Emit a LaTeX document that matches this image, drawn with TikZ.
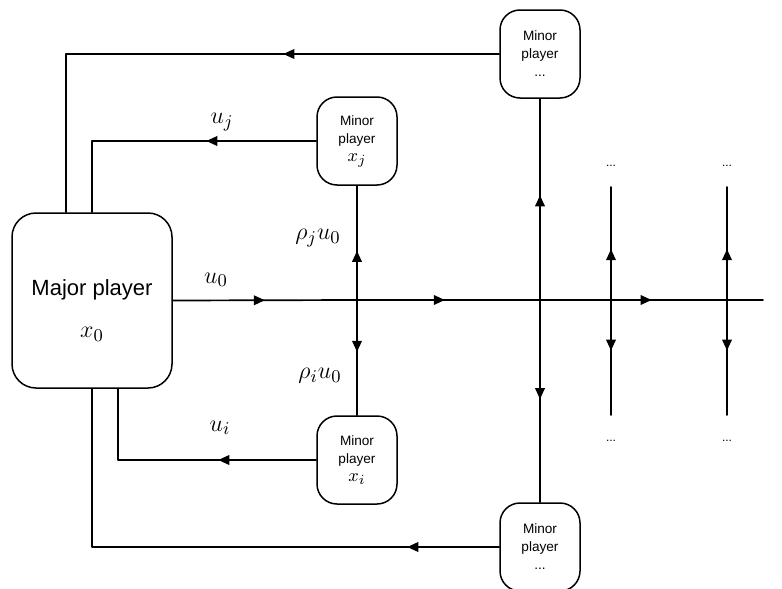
\documentclass[tikz,border=0pt]{standalone}
\usepackage{fontspec}
\setmainfont{Liberation Sans}
\usetikzlibrary{arrows.meta,decorations.markings}

\begin{document}
\begin{tikzpicture}[x=0.5pt, y=-0.5pt, line cap=round, line join=round,
  wire/.style={line width=0.85pt},
  tipat/.style={postaction={decorate},decoration={markings,
    mark=at position #1 with {\arrow{Triangle[length=5.5pt,width=4.8pt]}}}},
  player/.style={draw, line width=0.75pt, rounded corners=10pt, align=center, inner sep=0pt},
  minor/.style={player, minimum width=40pt, minimum height=44pt, font=\fontsize{6.8}{9}\selectfont},
  dots/.style={font=\fontsize{6}{6}\selectfont},
  sig/.style={font=\fontsize{12.5}{12.5}\selectfont}]
  \useasboundingbox (0,0) rectangle (782,589);

  % players
  \node[player, minimum width=80pt, minimum height=87.5pt, rounded corners=12pt,
    font=\fontsize{11}{14}\selectfont] (major) at (92,300.5)
    {\\[4pt]Major player\\[7pt]{\fontsize{13}{13}\selectfont$x_0$}};
  \node[minor] (mj) at (357,141) {Minor\\player\\{\fontsize{9.5}{9}\selectfont$x_j$}};
  \node[minor] (mi) at (357,460) {Minor\\player\\{\fontsize{9.5}{9}\selectfont$x_i$}};
  \node[minor] (mtop) at (540,54) {Minor\\player\\...};
  \node[minor] (mbot) at (540,547) {Minor\\player\\...};

  % junctions on the common line
  \coordinate (j1) at (357,300);
  \coordinate (j2) at (540,300);
  \coordinate (j3) at (611,300);
  \coordinate (j4) at (727,300);
  \coordinate (end) at (763,300);
  \coordinate (r1t) at (611,187);
  \coordinate (r1b) at (611,415);
  \coordinate (r2t) at (727,187);
  \coordinate (r2b) at (727,415);
  \node[dots] (d1t) at (611,166) {...};
  \node[dots] (d1b) at (611,441) {...};
  \node[dots] (d2t) at (727,166) {...};
  \node[dots] (d2b) at (727,441) {...};

  \draw[wire,tipat=0.5] (major.east) -- (j1);
  \draw[wire,tipat=0.48] (j1) -- (j2);
  \draw[wire] (j2) -- (j3);
  \draw[wire,tipat=0.35] (j3) -- (j4);
  \draw[wire] (j4) -- (end);

  \draw[wire,tipat=0.43] (j1) -- (mj.south);
  \draw[wire,tipat=0.45] (j1) -- (mi.north);
  \draw[wire,tipat=0.52] (j2) -- (mtop.south);
  \draw[wire,tipat=0.49] (j2) -- (mbot.north);
  \draw[wire,tipat=0.45] (j3) -- (r1t);
  \draw[wire,tipat=0.44] (j3) -- (r1b);
  \draw[wire,tipat=0.45] (j4) -- (r2t);
  \draw[wire,tipat=0.44] (j4) -- (r2b);

  % feedback to the major player
  \draw[wire,tipat=108pt] (mtop.west) -| ([xshift=-13pt]major.north);
  \draw[wire,tipat=55pt] (mj.west) -| (major.north);
  \draw[wire,tipat=49pt] (mi.west) -| ([xshift=13pt]major.south);
  \draw[wire,tipat=46pt] (mbot.west) -| (major.south);

  \node[sig] (lu0) at (216,280) {$u_0$};
  \node[sig] (luj) at (222,122) {$u_j$};
  \node[sig] (lui) at (220,428) {$u_i$};
  \node[sig] (lrj) at (318,238) {$\rho_j u_0$};
  \node[sig] (lri) at (320,376) {$\rho_i u_0$};
\end{tikzpicture}
\end{document}
